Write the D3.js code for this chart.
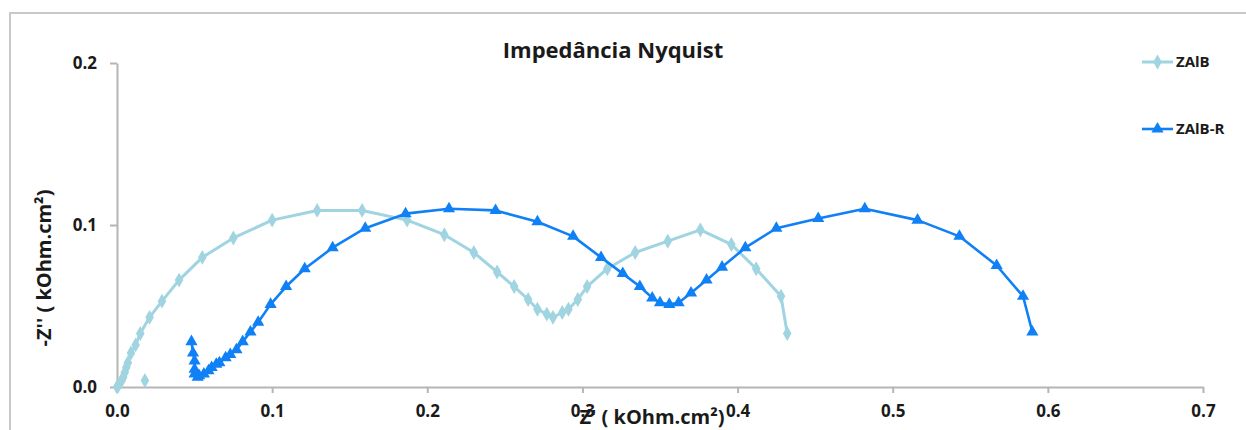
<!DOCTYPE html>
<html>
<head>
<meta charset="utf-8">
<script src="https://cdn.jsdelivr.net/npm/d3@7/dist/d3.min.js"></script>
<style>
  html, body { margin: 0; padding: 0; background: #fff; }
  svg { display: block; font-family: "Open Sans", Lato, sans-serif; }
</style>
</head>
<body>
<svg id="chart" width="1246" height="430"></svg>
<script>
// Nyquist impedance data: Z' (real) and -Z'' (imaginary), kOhm.cm²
const seriesNames = ["ZAlB", "ZAlB-R"];

// ZAlB: real part (null marks a break in the line)
const zalbRe = [0.018, null,
  0.000, 0.001, 0.003, 0.004, 0.005, 0.006, 0.007, 0.009, 0.012, 0.015,
  0.021, 0.029, 0.040, 0.055, 0.075, 0.100, 0.129, 0.158, 0.187, 0.211,
  0.230, 0.245, 0.256, 0.265, 0.271, 0.277, 0.281, 0.287, 0.291, 0.297,
  0.303, 0.316, 0.334, 0.355, 0.376, 0.396, 0.412, 0.428, 0.432];
// ZAlB: negative imaginary part
const zalbIm = [0.004, null,
  0.000, 0.001, 0.004, 0.006, 0.009, 0.012, 0.015, 0.021, 0.026, 0.033,
  0.043, 0.053, 0.066, 0.080, 0.092, 0.103, 0.109, 0.109, 0.103, 0.094,
  0.083, 0.071, 0.062, 0.054, 0.048, 0.045, 0.043, 0.046, 0.048, 0.054,
  0.062, 0.073, 0.083, 0.090, 0.097, 0.088, 0.073, 0.056, 0.033];

// ZAlB-R: real part
const zalbrRe = [0.048, 0.049, 0.050, 0.050, 0.050, 0.052, 0.053, 0.056, 0.059,
  0.061, 0.064, 0.066, 0.070, 0.073, 0.077, 0.081, 0.086, 0.091, 0.099,
  0.109, 0.121, 0.139, 0.160, 0.186, 0.214, 0.244, 0.271, 0.294, 0.312,
  0.326, 0.337, 0.345, 0.350, 0.356, 0.362, 0.370, 0.380, 0.390, 0.405,
  0.425, 0.452, 0.482, 0.516, 0.543, 0.567, 0.584, 0.590];
// ZAlB-R: negative imaginary part
const zalbrIm = [0.028, 0.021, 0.016, 0.011, 0.008, 0.006, 0.007, 0.008, 0.010,
  0.012, 0.014, 0.015, 0.018, 0.020, 0.023, 0.028, 0.034, 0.040, 0.051,
  0.062, 0.073, 0.086, 0.098, 0.107, 0.110, 0.109, 0.102, 0.093, 0.080,
  0.070, 0.062, 0.055, 0.052, 0.051, 0.052, 0.058, 0.066, 0.074, 0.086,
  0.098, 0.104, 0.110, 0.103, 0.093, 0.075, 0.056, 0.034];

const xTicks = [0.0, 0.1, 0.2, 0.3, 0.4, 0.5, 0.6, 0.7];
const yTicks = [0.0, 0.1, 0.2];

const colors = ["#9fd4e0", "#0f80f5"];
const textColor = "#1a1a1a";

const svg = d3.select("#chart");

// chart frame
svg.append("rect")
  .attr("x", 10).attr("y", 13)
  .attr("width", 1400).attr("height", 600)
  .attr("fill", "#fff")
  .attr("stroke", "#c9c9c9").attr("stroke-width", 2);

const x = d3.scaleLinear().domain([0, 0.7]).range([117, 1203]);
const y = d3.scaleLinear().domain([0, 0.2]).range([387, 63]);

const axisColor = "#b5b5b5";

const xAxis = svg.append("g")
  .attr("transform", `translate(0,${y(0)})`)
  .call(d3.axisBottom(x).tickValues(xTicks).tickFormat(d3.format(".1f"))
    .tickSizeInner(6).tickSizeOuter(0).tickPadding(12));

const yAxis = svg.append("g")
  .attr("transform", `translate(${x(0)},0)`)
  .call(d3.axisLeft(y).tickValues(yTicks).tickFormat(d3.format(".1f"))
    .tickSizeInner(7).tickSizeOuter(0).tickPadding(13));

[xAxis, yAxis].forEach(g => {
  g.select(".domain").attr("stroke", axisColor).attr("stroke-width", 2);
  g.selectAll(".tick line").attr("stroke", axisColor).attr("stroke-width", 2);
  g.selectAll(".tick text")
    .attr("fill", textColor)
    .attr("font-family", "'Open Sans', sans-serif")
    .attr("font-size", 17)
    .attr("font-weight", "bold");
});

// title and axis titles
svg.append("text")
  .attr("x", 613).attr("y", 58)
  .attr("text-anchor", "middle")
  .attr("font-size", 22).attr("font-weight", "bold").attr("fill", textColor)
  .text("Impedância Nyquist");

svg.append("text")
  .attr("x", 652).attr("y", 424)
  .attr("text-anchor", "middle")
  .attr("font-size", 20).attr("font-weight", "bold").attr("fill", textColor)
  .text("Z' ( kOhm.cm²)");

svg.append("text")
  .attr("transform", "translate(51,268) rotate(-90)")
  .attr("text-anchor", "middle")
  .attr("font-size", 20).attr("font-weight", "bold").attr("fill", textColor)
  .text("-Z'' ( kOhm.cm²)");

// series
const toPoints = (re, im) => re.map((v, i) => (v === null ? null : [v, im[i]]));
const series = [
  { name: seriesNames[0], pts: toPoints(zalbRe, zalbIm), symbol: d3.symbolDiamond, size: 64, width: 3 },
  { name: seriesNames[1], pts: toPoints(zalbrRe, zalbrIm), symbol: d3.symbolTriangle, size: 64, width: 2.6 }
];

const line = d3.line()
  .defined(d => d !== null)
  .x(d => x(d[0])).y(d => y(d[1]));

series.forEach((s, i) => {
  const g = svg.append("g");
  g.append("path")
    .attr("d", line(s.pts))
    .attr("fill", "none")
    .attr("stroke", colors[i])
    .attr("stroke-width", s.width)
    .attr("stroke-linejoin", "round");
  g.selectAll("path.mk")
    .data(s.pts.filter(d => d !== null))
    .join("path")
    .attr("class", "mk")
    .attr("transform", d => `translate(${x(d[0])},${y(d[1])})`)
    .attr("d", d3.symbol().type(s.symbol).size(s.size))
    .attr("fill", colors[i]);
});

// legend
const legendY = [62, 129];
series.forEach((s, i) => {
  const g = svg.append("g").attr("transform", `translate(1142,${legendY[i]})`);
  g.append("line").attr("x1", 0).attr("x2", 31)
    .attr("stroke", colors[i]).attr("stroke-width", s.width);
  g.append("path")
    .attr("transform", "translate(15.5,0)")
    .attr("d", d3.symbol().type(s.symbol).size(s.size))
    .attr("fill", colors[i]);
  g.append("text")
    .attr("x", 34).attr("y", 0).attr("dy", "0.35em")
    .attr("font-size", 15).attr("font-weight", "bold").attr("fill", textColor)
    .text(s.name);
});
</script>
</body>
</html>
